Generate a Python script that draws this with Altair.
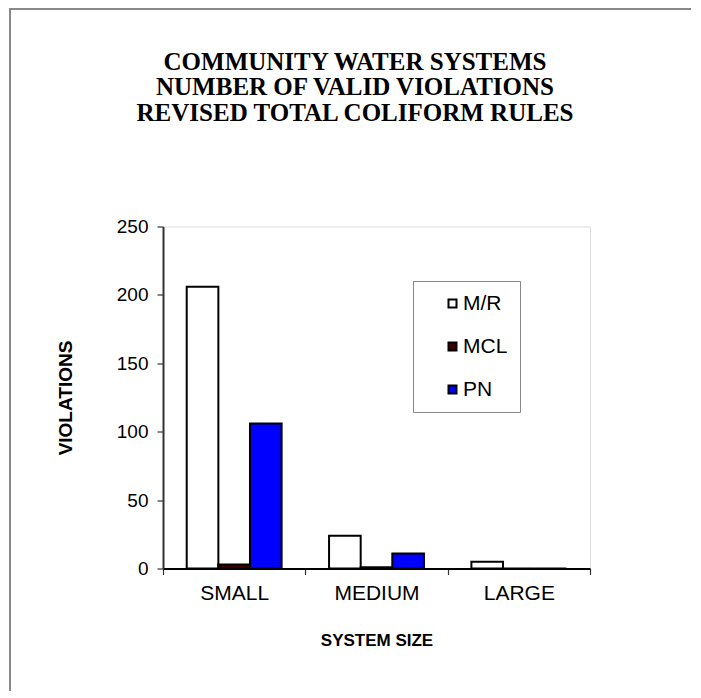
import altair as alt
import pandas as pd

categories = ["SMALL", "MEDIUM", "LARGE"]
series = ["M/R", "MCL", "PN"]
mr_values = [206, 24, 5]
mcl_values = [3, 1, 0]
pn_values = [106, 11, 0]
colors = ["#FFFFFF", "#3D0000", "#0000FF"]
title_lines = ["COMMUNITY WATER SYSTEMS", "NUMBER OF VALID VIOLATIONS", "REVISED TOTAL COLIFORM RULES"]

rows = []
for s, vals in zip(series, [mr_values, mcl_values, pn_values]):
    for c, v in zip(categories, vals):
        rows.append({"size": c, "type": s, "violations": v})
df = pd.DataFrame(rows)
title_df = pd.DataFrame({"t": [0]})

W, H = 427, 342
FONT = "Liberation Sans"

bars = alt.Chart(df).mark_bar(stroke="black", strokeWidth=2, clip=False).encode(
    x=alt.X("size:N", sort=categories,
            scale=alt.Scale(paddingInner=0, paddingOuter=0),
            axis=alt.Axis(title="SYSTEM SIZE", labelAngle=0, labelFontSize=21,
                          labelFont=FONT, labelColor="black", labelPadding=8,
                          tickColor="#333", tickSize=6, tickWidth=1.2, tickBand="extent",
                          domainColor="black", domainWidth=2,
                          titleFont=FONT, titleFontSize=17, titleFontWeight="bold",
                          titleColor="black", titleY=71.5, titleBaseline="middle")),
    xOffset=alt.XOffset("type:N", sort=series,
                        scale=alt.Scale(paddingInner=0, paddingOuter=0.75)),
    y=alt.Y("violations:Q", scale=alt.Scale(domain=[0, 250]),
            axis=alt.Axis(title="VIOLATIONS", values=[0, 50, 100, 150, 200, 250],
                          grid=False, labelFontSize=19, labelFont=FONT,
                          labelColor="black", labelPadding=9,
                          tickColor="#333", tickSize=6, tickWidth=1.2,
                          domainColor="#333", domainWidth=2,
                          titleFont=FONT, titleFontSize=19, titleFontWeight="bold",
                          titleColor="black", titleX=-98, titleY=171,
                          titleAngle=270, titleBaseline="middle")),
    fill=alt.Fill("type:N", sort=series,
                  scale=alt.Scale(domain=series, range=colors),
                  legend=alt.Legend(title=None, orient="none", legendX=250, legendY=54.5,
                                    strokeColor="#888", fillColor="white", padding=12,
                                    symbolType="square", symbolSize=64,
                                    symbolStrokeColor="black", symbolStrokeWidth=2,
                                    symbolOffset=17, labelOffset=0,
                                    labelFont=FONT, labelFontSize=21, labelColor="black",
                                    rowPadding=21)),
)

title = alt.Chart(title_df).mark_text(
    font="Liberation Serif", fontSize=25, fontWeight="bold", color="black",
    align="center", baseline="top", lineHeight=25.5, clip=False,
).encode(x=alt.value(192), y=alt.value(-177), text=alt.value(title_lines))

frame_top = alt.Chart(title_df).mark_rule(color="#888", strokeWidth=2, clip=False).encode(
    x=alt.value(-153), x2=alt.value(529), y=alt.value(-217.5))
frame_left = alt.Chart(title_df).mark_rule(color="#888", strokeWidth=2, clip=False).encode(
    x=alt.value(-153), y=alt.value(-218.5), y2=alt.value(480))

chart = alt.layer(frame_top, frame_left, title, bars).properties(
    width=W, height=H,
    autosize=alt.AutoSizeParams(type="none"),
    padding={"left": 155, "top": 218.5, "right": 101, "bottom": 122},
).configure_view(stroke="#888", strokeWidth=2).configure(background="white")

chart.save("out.html", embed_options={"renderer": "svg", "actions": False})
